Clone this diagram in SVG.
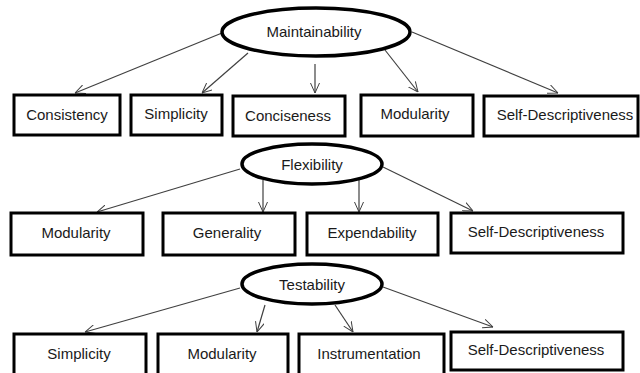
<svg xmlns="http://www.w3.org/2000/svg" width="640" height="373" viewBox="0 0 640 373">
<defs>
<marker id="arr" viewBox="0 0 10 10" refX="10" refY="5" markerWidth="10" markerHeight="10" markerUnits="userSpaceOnUse" orient="auto">
<path d="M0,0.5 L10,5 L0,9.5" fill="none" stroke="#404040" stroke-width="1"/>
</marker>
</defs>
<style>
.box{fill:#fff;stroke:#000;stroke-width:3}
.ell{fill:#fff;stroke:#000;stroke-width:3.5}
.t{font-family:"Liberation Sans",Arial,sans-serif;font-size:15px;fill:#1a1a1a;text-anchor:middle}
.c{stroke:#404040;stroke-width:1.2;fill:none;marker-end:url(#arr)}
</style>
<rect width="640" height="373" fill="#fff"/>
<g id="connectors">
<line class="c" x1="222" y1="33" x2="75" y2="93"/>
<line class="c" x1="248" y1="53" x2="202" y2="93"/>
<line class="c" x1="315" y1="64" x2="315" y2="93"/>
<line class="c" x1="385" y1="50" x2="418" y2="92"/>
<line class="c" x1="412" y1="32" x2="558" y2="93"/>
<line class="c" x1="240" y1="169" x2="97" y2="212"/>
<line class="c" x1="263" y1="180" x2="263" y2="212"/>
<line class="c" x1="359" y1="175" x2="359" y2="212"/>
<line class="c" x1="383" y1="167" x2="473" y2="211"/>
<line class="c" x1="240" y1="288" x2="85" y2="332"/>
<line class="c" x1="265" y1="305" x2="257" y2="332"/>
<line class="c" x1="335" y1="305" x2="353" y2="332"/>
<line class="c" x1="383" y1="287" x2="493" y2="327"/>
</g>
<g id="maintainability"><ellipse class="ell" cx="316" cy="32" rx="94" ry="24"/><text class="t" x="314" y="37">Maintainability</text></g>
<g id="m-consistency"><rect class="box" x="14" y="95" width="106" height="40"/><text class="t" x="67" y="120">Consistency</text></g>
<g id="m-simplicity"><rect class="box" x="131" y="95" width="91" height="40"/><text class="t" x="176" y="119">Simplicity</text></g>
<g id="m-conciseness"><rect class="box" x="233" y="96" width="112" height="40"/><text class="t" x="288" y="121">Conciseness</text></g>
<g id="m-modularity"><rect class="box" x="361" y="95" width="112" height="41"/><text class="t" x="415" y="119">Modularity</text></g>
<g id="m-selfdesc"><rect class="box" x="484" y="96" width="154" height="40"/><text class="t" x="565" y="120">Self-Descriptiveness</text></g>
<g id="flexibility"><ellipse class="ell" cx="312" cy="164" rx="70" ry="20"/><text class="t" x="312" y="170">Flexibility</text></g>
<g id="f-modularity"><rect class="box" x="11" y="213" width="132" height="42"/><text class="t" x="76" y="238">Modularity</text></g>
<g id="f-generality"><rect class="box" x="163" y="213" width="132" height="42"/><text class="t" x="227" y="238">Generality</text></g>
<g id="f-expendability"><rect class="box" x="307" y="213" width="131" height="42"/><text class="t" x="372" y="238">Expendability</text></g>
<g id="f-selfdesc"><rect class="box" x="451" y="213" width="172" height="40"/><text class="t" x="536" y="237">Self-Descriptiveness</text></g>
<g id="testability"><ellipse class="ell" cx="312" cy="284" rx="70" ry="20"/><text class="t" x="312" y="290">Testability</text></g>
<g id="t-simplicity"><rect class="box" x="14" y="334" width="132" height="45"/><text class="t" x="79" y="359">Simplicity</text></g>
<g id="t-modularity"><rect class="box" x="158" y="334" width="130" height="45"/><text class="t" x="222" y="359">Modularity</text></g>
<g id="t-instrumentation"><rect class="box" x="299" y="334" width="145" height="45"/><text class="t" x="369" y="359">Instrumentation</text></g>
<g id="t-selfdesc"><rect class="box" x="451" y="332" width="172" height="38"/><text class="t" x="536" y="355">Self-Descriptiveness</text></g>
</svg>
